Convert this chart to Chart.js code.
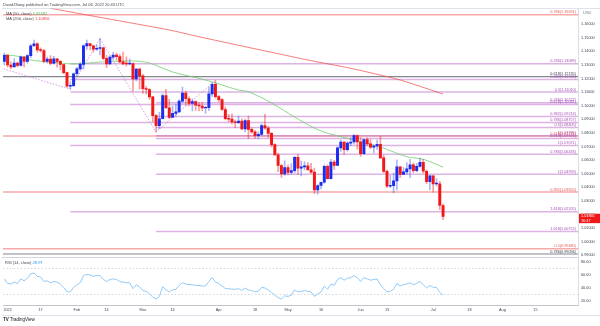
<!DOCTYPE html>
<html><head><meta charset="utf-8">
<script src="https://cdn.jsdelivr.net/npm/chart.js@4.4.0/dist/chart.umd.min.js"></script>
<style>
html,body{margin:0;padding:0;background:#fff;}
body{width:600px;height:326px;position:relative;overflow:hidden;font-family:"Liberation Sans",Arial,sans-serif;}
canvas{position:absolute;left:0;}
#main{top:0;}
#rsi{top:257px;}
.t{position:absolute;white-space:nowrap;font-size:4px;line-height:4px;color:#434651;}
.frame{position:absolute;background:#e0e3eb;}
</style></head>
<body>
<div class="frame" style="left:2px;top:8px;width:598px;height:0.6px"></div>
<div class="frame" style="left:2px;top:256.6px;width:576px;height:0.6px;background:#d1d4dc"></div>
<div class="frame" style="left:2px;top:315px;width:598px;height:0.6px"></div>
<canvas id="main" width="600" height="258"></canvas>
<canvas id="rsi" width="600" height="69"></canvas>
<div class="t" style="left:3px;top:3px;">DavidJSong published on TradingView.com, Jul 06, 2022 20:43 UTC</div>
<div class="t" style="left:6px;top:11.5px;">MA (50, close) <span style="color:#4caf50">1.05482</span></div>
<div class="t" style="left:6px;top:17px;">MA (200, close) <span style="color:#f23645">1.10856</span></div>
<div class="t" style="left:5px;top:260.7px;">RSI (14, close) <span style="color:#2196f3">28.97</span></div>
<div class="t" style="left:583px;top:11px;color:#787b86">USD</div>
<div class="t" style="left:3px;top:318px;font-size:4.5px;line-height:4.5px;color:#131722"><b>TV</b> TradingView</div>
<script>
// ---- candles: index -1 = 2021-12-31, 0 = 2022-01-03 ... 132 = 2022-07-06 (weekdays)
const firstIdx = -1;
const opens = [1.1326,
 1.1370,1.1299,1.1286,1.1313,1.1296, 1.1360,1.1326,1.1368,1.1441,1.1455,
 1.1411,1.1406,1.1325,1.1343,1.1311, 1.1344,1.1326,1.1303,1.1243,1.1144,
 1.1147,1.1235,1.1271,1.1304,1.1440, 1.1456,1.1441,1.1415,1.1422,1.1425,
 1.1348,1.1307,1.1357,1.1373,1.1361, 1.1322,1.1308,1.1307,1.1309,1.1196,
 1.1270,1.1219,1.1125,1.1119,1.1065, 1.0927,1.0854,1.0904,1.1075,1.0985,
 1.0913,1.0943,1.0955,1.1034,1.1093, 1.1051,1.1016,1.1030,1.1004,1.0998,
 1.0983,1.0985,1.1087,1.1158,1.1067, 1.1045,1.0972,1.0904,1.0901,1.0880,
 1.0876,1.0887,1.0829,1.0890,1.0826, 1.0808,1.0779,1.0789,1.0854,1.0836,
 1.0796,1.0714,1.0638,1.0560,1.0498, 1.0545,1.0509,1.0523,1.0620,1.0540,
 1.0550,1.0558,1.0529,1.0512,1.0380, 1.0413,1.0437,1.0555,1.0464,1.0585,
 1.0561,1.0690,1.0733,1.0677,1.0725, 1.0733,1.0781,1.0733,1.0648,1.0750,
 1.0719,1.0695,1.0704,1.0716,1.0616, 1.0517,1.0408,1.0412,1.0447,1.0550,
 1.0495,1.0514,1.0536,1.0566,1.0522, 1.0554,1.0584,1.0518,1.0442,1.0484,
 1.0425,1.0425,1.0266];
const highs = [1.1386,
 1.1376,1.1323,1.1347,1.1321,1.1364, 1.1362,1.1375,1.1452,1.1482,1.1465,
 1.1425,1.1415,1.1357,1.1369,1.1363, 1.1346,1.1331,1.1305,1.1248,1.1175,
 1.1241,1.1283,1.1318,1.1449,1.1483, 1.1456,1.1446,1.1448,1.1495,1.1432,
 1.1371,1.1367,1.1395,1.1386,1.1378, 1.1395,1.1360,1.1345,1.1315,1.1274,
 1.1277,1.1233,1.1143,1.1125,1.1069, 1.0936,1.0951,1.1087,1.1121,1.1047,
 1.0997,1.1011,1.1044,1.1137,1.1107, 1.1065,1.1050,1.1036,1.1024,1.1025,
 1.0995,1.1137,1.1170,1.1185,1.1077, 1.1053,1.0990,1.0936,1.0940,1.0895,
 1.0924,1.0903,1.0901,1.0924,1.0838, 1.0817,1.0807,1.0866,1.0936,1.0849,
 1.0805,1.0722,1.0651,1.0569,1.0594, 1.0565,1.0574,1.0628,1.0642,1.0593,
 1.0587,1.0581,1.0577,1.0542,1.0420, 1.0439,1.0563,1.0565,1.0605,1.0598,
 1.0697,1.0748,1.0737,1.0736,1.0765, 1.0787,1.0785,1.0765,1.0752,1.0764,
 1.0750,1.0711,1.0748,1.0774,1.0635, 1.0529,1.0488,1.0505,1.0601,1.0553,
 1.0545,1.0582,1.0606,1.0579,1.0576, 1.0615,1.0606,1.0528,1.0488,1.0486,
 1.0464,1.0443,1.0277];
const lows = [1.1300,
 1.1284,1.1272,1.1285,1.1285,1.1291, 1.1285,1.1313,1.1353,1.1434,1.1393,
 1.1394,1.1315,1.1312,1.1300,1.1306, 1.1283,1.1263,1.1235,1.1136,1.1121,
 1.1142,1.1219,1.1262,1.1268,1.1413, 1.1411,1.1394,1.1406,1.1374,1.1339,
 1.1280,1.1303,1.1341,1.1335,1.1315, 1.1301,1.1290,1.1299,1.1106,1.1183,
 1.1121,1.1091,1.1085,1.1047,1.0883, 1.0806,1.0830,1.0903,1.0978,1.0905,
 1.0919,1.0922,1.0951,1.1021,1.1003, 1.0998,1.0961,1.0966,1.0962,1.0963,
 1.0944,1.0963,1.1068,1.1055,1.1027, 1.0965,1.0896,1.0880,1.0866,1.0836,
 1.0868,1.0823,1.0808,1.0758,1.0798, 1.0759,1.0758,1.0783,1.0826,1.0767,
 1.0697,1.0636,1.0515,1.0472,1.0487, 1.0491,1.0495,1.0506,1.0493,1.0483,
 1.0527,1.0523,1.0502,1.0354,1.0349, 1.0389,1.0428,1.0461,1.0461,1.0531,
 1.0560,1.0663,1.0642,1.0665,1.0706, 1.0718,1.0680,1.0627,1.0642,1.0707,
 1.0684,1.0653,1.0679,1.0612,1.0507, 1.0397,1.0397,1.0359,1.0381,1.0472,
 1.0492,1.0495,1.0470,1.0507,1.0514, 1.0548,1.0503,1.0427,1.0382,1.0365,
 1.0411,1.0235,1.0162];
const closes = [1.1370,
 1.1299,1.1286,1.1313,1.1296,1.1360, 1.1326,1.1368,1.1441,1.1455,1.1411,
 1.1406,1.1325,1.1343,1.1311,1.1344, 1.1326,1.1303,1.1243,1.1144,1.1147,
 1.1235,1.1271,1.1304,1.1440,1.1456, 1.1441,1.1415,1.1422,1.1425,1.1348,
 1.1307,1.1357,1.1373,1.1361,1.1322, 1.1308,1.1307,1.1309,1.1196,1.1270,
 1.1219,1.1125,1.1119,1.1065,1.0927, 1.0854,1.0904,1.1075,1.0985,1.0913,
 1.0943,1.0955,1.1034,1.1093,1.1051, 1.1016,1.1030,1.1004,1.0998,1.0983,
 1.0985,1.1087,1.1158,1.1067,1.1045, 1.0972,1.0904,1.0901,1.0880,1.0876,
 1.0887,1.0829,1.0890,1.0826,1.0808, 1.0779,1.0789,1.0854,1.0836,1.0796,
 1.0714,1.0638,1.0560,1.0498,1.0545, 1.0509,1.0523,1.0620,1.0540,1.0550,
 1.0558,1.0529,1.0512,1.0380,1.0413, 1.0437,1.0555,1.0464,1.0585,1.0561,
 1.0690,1.0733,1.0677,1.0725,1.0733, 1.0781,1.0733,1.0648,1.0750,1.0719,
 1.0695,1.0704,1.0716,1.0616,1.0517, 1.0408,1.0412,1.0447,1.0550,1.0495,
 1.0514,1.0536,1.0566,1.0522,1.0554, 1.0584,1.0518,1.0442,1.0484,1.0425,
 1.0425,1.0266,1.01865];
// RSI(14) per bar, same indices
const rsiVals = [54,
 47,46,49,47,54, 51,55,62,63,58, 57,50,51,48,50, 49,46,41,34,34,
 41,45,48,59,61, 60,58,59,59,53, 50,53,54,53,50, 49,48,48,39,45,
 42,36,35,31,26, 23,27,42,37,34, 37,38,44,48,46, 45,45,44,44,43,
 43,50,56,49,47, 43,39,39,38,38, 39,36,40,37,36, 34,35,41,40,37,
 33,29,25,23,28, 27,29,37,34,35, 36,35,34,27,31, 34,43,38,46,44,
 53,56,52,55,56, 59,56,50,56,54, 52,53,54,45,39, 34,35,38,47,43,
 45,46,48,45,47, 50,45,40,44,41, 41,33,28.97];
// moving averages (bar index, value)
const ma50Idx = [-1,4,7,13,20,28,38,43,50,60,70,73,80,88,95,105,113,121,126,132];
const ma50Val = [1.1376,1.1360,1.1336,1.1321,1.1307,1.1321,1.1329,1.1314,1.1248,1.1189,1.1115,1.1103,1.1020,1.0902,1.0814,1.0748,1.0696,1.0625,1.0606,1.05482];
const ma200Idx = [10,14,49,58,91,104,119,132];
const ma200Val = [1.1740,1.1712,1.1557,1.1507,1.1336,1.1275,1.1189,1.10856];
// zig-zag trend line of the fibonacci drawings
const zigIdx = [-2,19,28,45,63];
const zigVal = [1.1277,1.1121,1.1495,1.0806,1.1185];
// fibonacci levels
const fibPrice = [1.16691,1.13089,1.12135,1.11926,1.11010,1.10222,1.10081,1.09214,1.08757,1.08405,1.07785,1.07771,1.07591,1.07071,1.06433,1.04959,1.03650,1.02205,1.00752,0.99480,0.99094];
const fibStart = [-2,19,-2,19,19,45,19,45,19,45,45,-2,45,19,45,45,-2,19,45,-2,-2];
const fibKind  = ['r','v','g','v','v','v','v','v','v','v','v','r','v','v','v','v','r','v','v','r','g'];
const fibLabel = ['0.786(1.16691)','0.236(1.13089)','0.618(1.12135)','0.382(1.11926)','0.5(1.11010)','0.236(1.10222)','0.618(1.10081)','0.382(1.09214)','0.786(1.08757)','0.5(1.08405)','1(1.07785)','0.618(1.07771)','0.618(1.07591)','1(1.07071)','0.786(1.06433)','1(1.04959)','0.382(1.03650)','1.618(1.02205)','1.618(1.00752)','0.5(0.99480)','0.786(0.99094)'];
// axes
const priceTicks = [0.99,1.00,1.01,1.02,1.03,1.04,1.05,1.06,1.07,1.08,1.09,1.10,1.11,1.12,1.13,1.14,1.15,1.16];
const rsiTicks = [20,40,60,80];
const rsiLevels = [70,30];
const dateIdx = [0,10,21,30,41,50,64,75,85,95,107,115,129,140,150,160];
const dateLbl = ['2022','17','Feb','14','Mar','14','Apr','18','May','16','Jun','13','Jul','18','Aug','15'];

const X_MIN = -1.4, X_MAX = 172.9;
const P_MIN = 0.98912, P_MAX = 1.17147;
const R_MIN = 13.8, R_MAX = 86.9;
const FONT = '"Liberation Sans", Arial, sans-serif';
const lineCol = {v:'rgba(186,104,200,0.5)', r:'rgba(239,83,80,0.5)', g:'rgba(110,113,124,0.85)'};
const textCol = {v:'#a34fb6', r:'#e0605c', g:'#3d3f47'};
const UP='#1c2cf0', DN='#f01818', UPW='rgba(70,90,240,0.45)', DNW='rgba(240,40,40,0.45)';

const idx = closes.map((c,k)=>firstIdx+k);
const isUp = closes.map((c,k)=>c>=opens[k]);

const fibSets = fibPrice.map((p,k)=>({
  type:'line', data:[{x:fibStart[k],y:p},{x:X_MAX,y:p}], borderColor:lineCol[fibKind[k]],
  borderWidth: fibKind[k]==='g'?1.2:1.5, pointRadius:0, order:10
}));

const fibLabelPlugin = {
  id:'fibLabels',
  afterDraw(chart){
    const {ctx, chartArea, scales:{y}} = chart;
    ctx.save();
    ctx.font = '3.8px ' + FONT;
    ctx.textAlign = 'right'; ctx.textBaseline = 'bottom';
    fibPrice.forEach((p,k)=>{
      ctx.fillStyle = textCol[fibKind[k]];
      ctx.fillText(fibLabel[k], chartArea.right - 2, y.getPixelForValue(p) - 0.6);
    });
    // last price tag
    const last = closes[closes.length-1];
    const py = y.getPixelForValue(last);
    ctx.fillStyle = '#f01818';
    ctx.fillRect(chartArea.right + 1, py - 2.6, 21, 9.4);
    ctx.fillStyle = '#fff';
    ctx.textAlign = 'left'; ctx.textBaseline = 'middle';
    ctx.fillText(last.toFixed(5), chartArea.right + 3, py);
    ctx.fillText('16:47', chartArea.right + 3, py + 4.3);
    ctx.restore();
  }
};

new Chart(document.getElementById('main'), {
  type:'bar',
  data:{datasets:[
    {type:'bar', data: idx.map((i,k)=>({x:i, y:[opens[k], closes[k]]})), backgroundColor: isUp.map(u=>u?UP:DN),
     barThickness:2.3, minBarLength:0.8, grouped:false, borderWidth:0, order:0},
    {type:'bar', data: idx.map((i,k)=>({x:i, y:[lows[k], highs[k]]})), backgroundColor: isUp.map(u=>u?UPW:DNW),
     barThickness:1, grouped:false, borderWidth:0, order:1},
    {type:'line', data: ma50Idx.map((i,k)=>({x:i,y:ma50Val[k]})), borderColor:'rgba(102,204,102,0.75)', borderWidth:1, pointRadius:0, tension:0.3, order:2},
    {type:'line', data: ma200Idx.map((i,k)=>({x:i,y:ma200Val[k]})), borderColor:'rgba(242,80,80,0.75)', borderWidth:1, pointRadius:0, tension:0.2, order:2},
    {type:'line', data: zigIdx.map((i,k)=>({x:i,y:zigVal[k]})), borderColor:'rgba(200,120,215,0.8)', borderWidth:0.9, borderDash:[1.5,1.5], pointRadius:0, order:3},
    ...fibSets
  ]},
  options:{
    responsive:false, animation:false, events:[],
    layout:{padding:{left:3, top:8.5, right:0, bottom:1.5}},
    plugins:{legend:{display:false}, tooltip:{enabled:false}},
    scales:{
      x:{type:'linear', min:X_MIN, max:X_MAX, display:false, offset:false},
      y:{type:'linear', position:'right', min:P_MIN, max:P_MAX,
         afterFit:s=>{s.width=22; s.paddingTop=0; s.paddingBottom=0;},
         afterBuildTicks:s=>{s.ticks=priceTicks.map(v=>({value:v}));},
         grid:{display:false, drawTicks:false},
         border:{display:true, color:'#d1d4dc', width:0.8},
         ticks:{font:{size:3.8, family:FONT}, color:'#434651', padding:3, autoSkip:false, callback:v=>Number(v).toFixed(5)}}
    }
  },
  plugins:[fibLabelPlugin]
});

new Chart(document.getElementById('rsi'), {
  type:'line',
  data:{datasets:[
    {data: idx.map((i,k)=>({x:i,y:rsiVals[k]})), borderColor:'#90caf9', borderWidth:1, pointRadius:0, tension:0},
    ...rsiLevels.map(l=>({data:[{x:X_MIN,y:l},{x:X_MAX,y:l}], borderColor:'#c3c6ce', borderWidth:0.7, borderDash:[1.5,2], pointRadius:0}))
  ]},
  options:{
    responsive:false, animation:false, events:[],
    layout:{padding:{left:3, top:0.5, right:0, bottom:0}},
    plugins:{legend:{display:false}, tooltip:{enabled:false}},
    scales:{
      x:{type:'linear', min:X_MIN, max:X_MAX, offset:false,
         afterFit:s=>{s.height=21; s.paddingLeft=0; s.paddingRight=0;},
         afterBuildTicks:s=>{s.ticks=dateIdx.map(v=>({value:v}));},
         grid:{display:false, drawTicks:false},
         border:{display:true, color:'#b2b5be', width:0.8},
         ticks:{font:{size:3.8, family:FONT}, color:'#434651', padding:2.5, maxRotation:0, autoSkip:false, callback:(v,i)=>dateLbl[i]}},
      y:{type:'linear', position:'right', min:R_MIN, max:R_MAX,
         afterFit:s=>{s.width=22; s.paddingTop=0; s.paddingBottom=0;},
         afterBuildTicks:s=>{s.ticks=rsiTicks.map(v=>({value:v}));},
         grid:{display:false, drawTicks:false},
         border:{display:true, color:'#d1d4dc', width:0.8},
         ticks:{font:{size:3.8, family:FONT}, color:'#434651', padding:3, autoSkip:false, callback:v=>Number(v).toFixed(2)}}
    }
  }
});
</script>
</body></html>
